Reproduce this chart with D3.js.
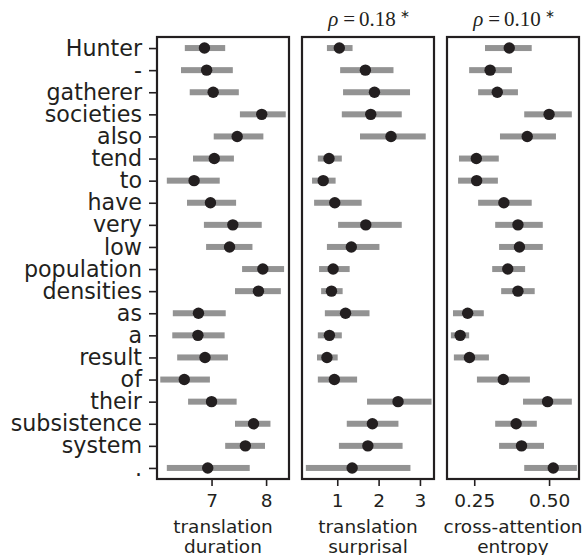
<!DOCTYPE html>
<html><head><meta charset="utf-8">
<script src="https://cdn.jsdelivr.net/npm/d3@7"></script>
<style>body{margin:0;background:#fff}svg{display:block}</style>
</head><body><div id="chart"></div>
<script>
const words = ["Hunter","-","gatherer","societies","also","tend","to","have","very","low","population","densities","as","a","result","of","their","subsistence","system","."];

const durMean = [6.87,6.91,7.03,7.92,7.47,7.05,6.68,6.98,7.39,7.33,7.94,7.86,6.76,6.75,6.88,6.50,7.00,7.77,7.62,6.93];
const durLo   = [6.51,6.44,6.60,7.52,7.04,6.66,6.18,6.55,6.86,6.90,7.56,7.43,6.29,6.28,6.37,6.06,6.57,7.43,7.25,6.18];
const durHi   = [7.25,7.39,7.50,8.36,7.95,7.41,7.15,7.45,7.92,7.75,8.33,8.27,7.26,7.24,7.30,6.97,7.46,8.08,7.98,7.70];

const surMean = [1.05,1.68,1.90,1.81,2.30,0.80,0.66,0.94,1.69,1.34,0.90,0.86,1.20,0.81,0.75,0.93,2.47,1.85,1.74,1.36];
const surLo   = [0.75,1.07,1.14,1.11,1.55,0.53,0.39,0.44,1.02,0.75,0.56,0.61,0.70,0.53,0.51,0.53,1.72,1.23,1.04,0.24];
const surHi   = [1.37,2.36,2.76,2.56,3.14,1.11,0.96,1.59,2.56,2.02,1.30,1.13,1.78,1.11,1.01,1.48,3.28,2.48,2.58,2.77];

const entMean = [0.367,0.303,0.327,0.500,0.427,0.257,0.258,0.349,0.396,0.401,0.362,0.396,0.228,0.203,0.234,0.347,0.495,0.390,0.408,0.514];
const entLo   = [0.286,0.233,0.263,0.417,0.336,0.199,0.196,0.263,0.320,0.333,0.310,0.340,0.179,0.172,0.182,0.259,0.413,0.320,0.333,0.417];
const entHi   = [0.442,0.376,0.396,0.576,0.523,0.332,0.329,0.442,0.479,0.479,0.420,0.452,0.282,0.233,0.299,0.436,0.576,0.459,0.483,0.593];

const tickVals = [[7,8],[1,2,3],[0.25,0.5]];
const tickFmt = [d3.format("d"), d3.format("d"), d3.format(".2f")];
const xLabels = [["translation","duration"],["translation","surprisal"],["cross-attention","entropy"]];
const titles = [null, "0.18", "0.10"];

const W = 587, H = 555;
const svg = d3.select("#chart").append("svg").attr("width", W).attr("height", H);

const panels = [
  {mean: durMean, lo: durLo, hi: durHi, x0: 157, x1: 289, dom: [6.0, 8.42]},
  {mean: surMean, lo: surLo, hi: surHi, x0: 302, x1: 434, dom: [0.147, 3.34]},
  {mean: entMean, lo: entLo, hi: entHi, x0: 447, x1: 579, dom: [0.159, 0.600]}
];
const yTop = 37, yBottom = 479;
const y = d3.scalePoint().domain(words).range([yTop, yBottom]).padding(0.5);

const ink = "#231f20";
panels.forEach((p, i) => {
  const x = d3.scaleLinear().domain(p.dom).range([p.x0, p.x1]);
  const g = svg.append("g");
  g.selectAll("rect.ci").data(words).join("rect")
    .attr("x", (w, j) => x(p.lo[j]))
    .attr("width", (w, j) => x(p.hi[j]) - x(p.lo[j]))
    .attr("y", w => y(w) - 3).attr("height", 6)
    .attr("fill", "#939393");
  g.selectAll("circle").data(words).join("circle")
    .attr("cx", (w, j) => x(p.mean[j])).attr("cy", w => y(w)).attr("r", 5.7)
    .attr("fill", ink);
  g.append("rect").attr("x", p.x0).attr("y", yTop).attr("width", p.x1 - p.x0).attr("height", yBottom - yTop)
    .attr("fill", "none").attr("stroke", ink).attr("stroke-width", 2.2);
  const xa = g.append("g").attr("transform", `translate(0,${yBottom + 1})`)
    .call(d3.axisBottom(x).tickValues(tickVals[i]).tickFormat(tickFmt[i]).tickSize(6).tickPadding(8));
  xa.select(".domain").remove();
  xa.selectAll("line").attr("stroke", ink).attr("stroke-width", 1.6);
  xa.selectAll("text").attr("font-family", "DejaVu Sans").attr("font-size", 18.5).attr("fill", ink);
  const cx = (p.x0 + p.x1) / 2;
  xLabels[i].forEach((t, k) => {
    svg.append("text").attr("x", cx).attr("y", 533 + k * 19.5).attr("text-anchor", "middle")
      .attr("font-family", "DejaVu Sans").attr("font-size", 18.5).attr("fill", ink).text(t);
  });
  if (titles[i]) {
    const tt = svg.append("text").attr("x", cx + 1).attr("y", 26).attr("text-anchor", "middle")
      .attr("font-family", "Liberation Serif").attr("font-size", 21).attr("fill", ink);
    tt.append("tspan").attr("font-style", "italic").text("ρ");
    tt.append("tspan").attr("dx", 5).text("=");
    tt.append("tspan").attr("dx", 4).text(titles[i]);
    tt.append("tspan").attr("font-family", "DejaVu Sans").attr("font-size", 12).attr("dx", 4).attr("dy", -8).text("∗");
  }
  if (i === 0) {
    const ya = g.append("g").attr("transform", `translate(${p.x0 - 1},0)`)
      .call(d3.axisLeft(y).tickSize(7).tickPadding(7));
    ya.select(".domain").remove();
    ya.selectAll("line").attr("stroke", ink).attr("stroke-width", 1.6);
    ya.selectAll("text").attr("font-family", "DejaVu Sans").attr("font-size", 22.2).attr("fill", ink);
  }
});
</script></body></html>
